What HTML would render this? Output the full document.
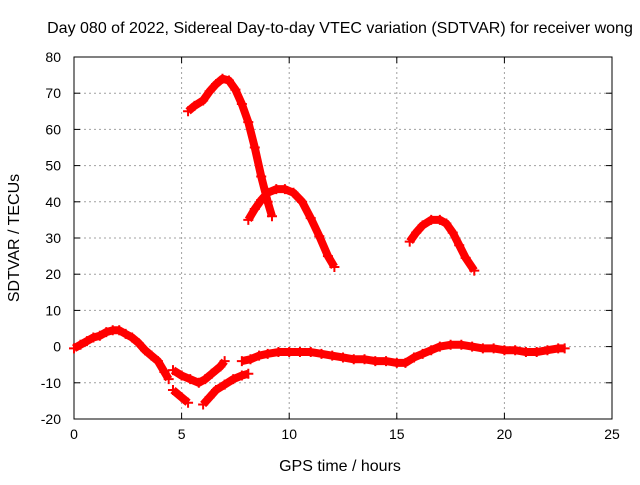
<!DOCTYPE html>
<html><head><meta charset="utf-8"><style>
body{margin:0;background:#fff}
svg text{font-family:"Liberation Sans",sans-serif;font-size:14px;fill:#000}
svg text.big{font-size:16px}
</style></head><body>
<svg id="chart" width="640" height="480" xmlns="http://www.w3.org/2000/svg">
<rect width="640" height="480" fill="#fff"/>
<text class="big" x="340" y="33" text-anchor="middle">Day 080 of 2022, Sidereal Day-to-day VTEC variation (SDTVAR) for receiver wong</text>
<g id="grid"></g><g id="axes"></g><g id="series"></g>
<text class="big" x="340" y="471" text-anchor="middle">GPS time / hours</text>
<text class="big" transform="translate(19,238) rotate(-90)" text-anchor="middle">SDTVAR / TECUs</text>
</svg>
<script>
const xTicks=[0,5,10,15,20,25];
const yTicks=[-20,-10,0,10,20,30,40,50,60,70,80];
const segA=[[5.3,65],[5.6,66.5],[6.0,68],[6.3,70.5],[6.6,72.5],[6.9,74],[7.2,73.5],[7.5,71],[7.8,67],[8.1,62],[8.4,55],[8.7,47],[9.0,40],[9.2,36]];
const segB=[[8.1,35],[8.4,38],[8.7,40.5],[9.0,42.5],[9.4,43.5],[9.8,43.5],[10.2,42.5],[10.6,40],[11.0,35.5],[11.4,30.5],[11.8,25],[12.1,22]];
const segC=[[15.6,29],[15.9,31.5],[16.2,33.5],[16.6,35],[17.0,35],[17.3,34],[17.6,31.5],[17.9,28],[18.2,24.5],[18.6,21]];
const segD=[[0,-0.5],[0.3,0.5],[0.6,1.5],[0.9,2.5],[1.2,3],[1.5,4],[1.8,4.5],[2.1,4.5],[2.4,3.5],[2.7,2.5],[3.0,1],[3.3,-1],[3.6,-2.5],[3.9,-4],[4.2,-7],[4.4,-9]];
const segE=[[4.6,-6.5],[5.0,-8],[5.4,-9],[5.8,-10],[6.1,-9],[6.4,-7.5],[6.8,-5.5],[7.0,-4]];
const segF=[[4.6,-12],[5.0,-14],[5.3,-15.5]];
const segG=[[6.0,-16],[6.3,-14],[6.6,-12],[7.0,-10.5],[7.4,-9],[7.8,-8],[8.1,-7.5]];
const segH=[[7.8,-4],[8.2,-3.5],[8.6,-2.5],[9.0,-2],[9.5,-1.5],[10,-1.5],[10.5,-1.5],[11,-1.5],[11.5,-2],[12,-2.5],[12.5,-3],[13,-3.5],[13.5,-3.5],[14,-4],[14.5,-4],[15,-4.5],[15.4,-4.5],[15.8,-3],[16.2,-2],[16.6,-1],[17,0],[17.5,0.5],[18,0.5],[18.5,0],[19,-0.5],[19.5,-0.5],[20,-1],[20.5,-1],[21,-1.5],[21.5,-1.5],[22,-1],[22.5,-0.5],[22.8,-0.5]];
const segs=[segA,segB,segC,segD,segE,segF,segG,segH];
const L=74,R=612,T=57,B=419;
const xs=v=>L+(v-0)/25*(R-L);
const ys=v=>B-(v+20)/100*(B-T);
const NS="http://www.w3.org/2000/svg";
function mk(tag,attrs,parent){const e=document.createElementNS(NS,tag);for(const k in attrs)e.setAttribute(k,attrs[k]);parent.appendChild(e);return e;}
const grid=document.getElementById('grid'),axes=document.getElementById('axes'),ser=document.getElementById('series');
xTicks.forEach(t=>{const x=xs(t);
 if(t>0&&t<25){const g=mk('line',{x1:x,x2:x,y1:T,y2:B,stroke:'#a0a0a0','stroke-dasharray':'2,3'},grid);
 }
 const tl=mk('text',{x:x,y:B+20,'text-anchor':'middle'},axes);tl.textContent=t;
 
 mk('line',{x1:x,x2:x,y1:B,y2:B-6,stroke:'#000'},axes);mk('line',{x1:x,x2:x,y1:T,y2:T+6,stroke:'#000'},axes);});
yTicks.forEach(t=>{const y=ys(t);
 if(t>-20&&t<80){const g=mk('line',{x1:L,x2:R,y1:y,y2:y,stroke:'#a0a0a0','stroke-dasharray':'2,3'},grid);
 }
 const tl=mk('text',{x:L-13,y:y+5,'text-anchor':'end'},axes);tl.textContent=t;
 
 mk('line',{x1:L,x2:L+6,y1:y,y2:y,stroke:'#000'},axes);mk('line',{x1:R,x2:R-6,y1:y,y2:y,stroke:'#000'},axes);});
const fr=mk('rect',{x:L,y:T,width:R-L,height:B-T,fill:'none',stroke:'#000'},axes);

segs.forEach((s,i)=>{
 const pl=mk('polyline',{points:s.map(p=>xs(p[0])+','+ys(p[1])).join(' '),fill:'none',stroke:'#f00','stroke-width':8,'stroke-linejoin':'round'},ser);
 
 s.forEach(p=>{const x=xs(p[0]),y=ys(p[1]);
  const m=mk('path',{d:`M${x-5},${y}H${x+5}M${x},${y-5}V${y+5}`,stroke:'#f00','stroke-width':2},ser);
  });
});
</script>
</body></html>
